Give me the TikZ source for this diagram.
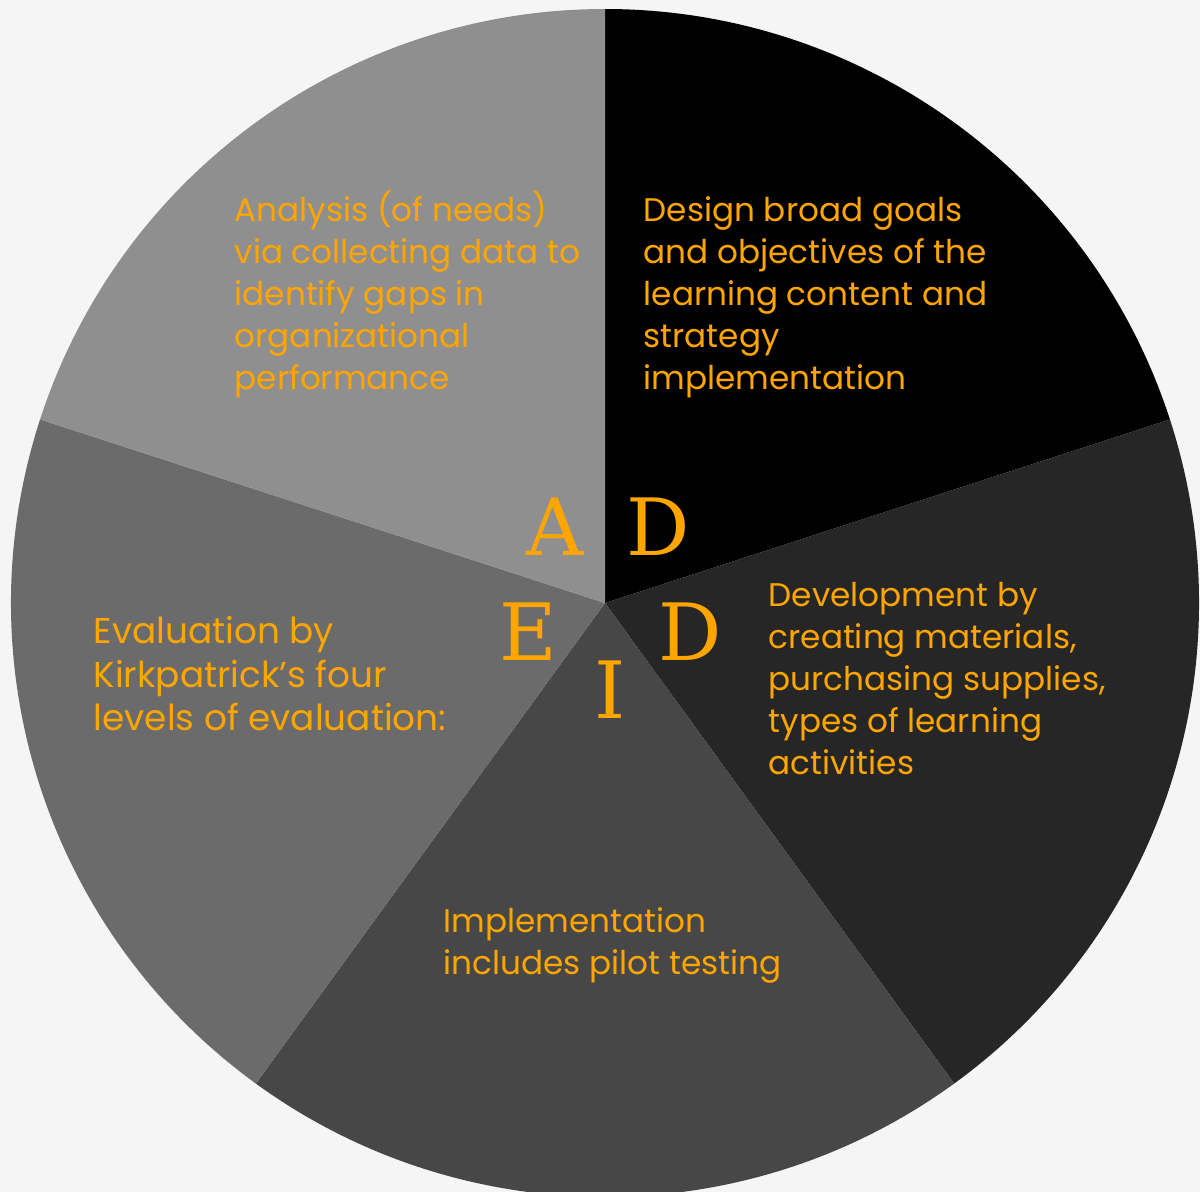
\documentclass[tikz,border=0pt]{standalone}
\usepackage{fontspec}
\setmainfont{Poppins}
\newfontfamily\letterfont{DejaVu Serif}
\usepackage{tikz}

\definecolor{bgpaper}{HTML}{F5F5F5}
\definecolor{sliceA}{HTML}{8F8F8F}
\definecolor{sliceD}{HTML}{000000}
\definecolor{sliceDv}{HTML}{262626}
\definecolor{sliceI}{HTML}{474747}
\definecolor{sliceE}{HTML}{6B6B6B}
\definecolor{addie}{HTML}{FFA500}

\tikzset{
  phase/.style={text=addie, font=\letterfont\fontsize{22.5}{27}\selectfont, inner sep=0pt},
  blurb/.style={text=addie, font=\fontsize{9.3}{11.95}\selectfont, align=left,
    anchor=north west, inner sep=0pt},
}

\begin{document}
\begin{tikzpicture}[auto]
          \fill[bgpaper] (0, 0) rectangle (12, -11.92);
          \useasboundingbox (0, 0) rectangle (12, -11.92);
          \coordinate (C) at (6.05, -6.03);
          % the five equal slices
          \fill[sliceD] (C) -- +(90:5.94) arc[start angle=90, end angle=18, radius=5.94] -- cycle;
          \fill[sliceDv] (C) -- +(18:5.94) arc[start angle=18, end angle=-54, radius=5.94] -- cycle;
          \fill[sliceI] (C) -- +(-54:5.94) arc[start angle=-54, end angle=-126, radius=5.94] -- cycle;
          \fill[sliceE] (C) -- +(-126:5.94) arc[start angle=-126, end angle=-198, radius=5.94] -- cycle;
          \fill[sliceA] (C) -- +(162:5.94) arc[start angle=162, end angle=90, radius=5.94] -- cycle;
          % letters round the centre
          \node[phase] (A) at (5.55, -5.27) {A};
          \node[phase] (D) at (6.58, -5.27) {D};
          \node[phase] (Dv) at (6.90, -6.32) {D};
          \node[phase] (E) at (5.28, -6.32) {E};
          \node[phase] (I) at (6.10, -6.90) {I};
          % texts in the slices
          \node[blurb] (analysis) at (2.34, -1.90) {Analysis (of needs)\\via collecting data to\\identify gaps in\\organizational\\performance};
          \node[blurb] (design) at (6.43, -1.96) {Design broad goals\\and objectives of the\\learning content and\\strategy\\implementation};
          \node[blurb] (develop) at (7.68, -5.82) {Development by\\creating materials,\\purchasing supplies,\\types of learning\\activities};
          \node[blurb] (implement) at (4.43, -9.07) {Implementation\\includes pilot testing};
          \node[blurb, font=\fontsize{10.2}{12.4}\selectfont] (evaluate) at (0.93, -6.155) {Evaluation by\\Kirkpatrick’s four\\levels of evaluation:};
        \end{tikzpicture}
\end{document}
